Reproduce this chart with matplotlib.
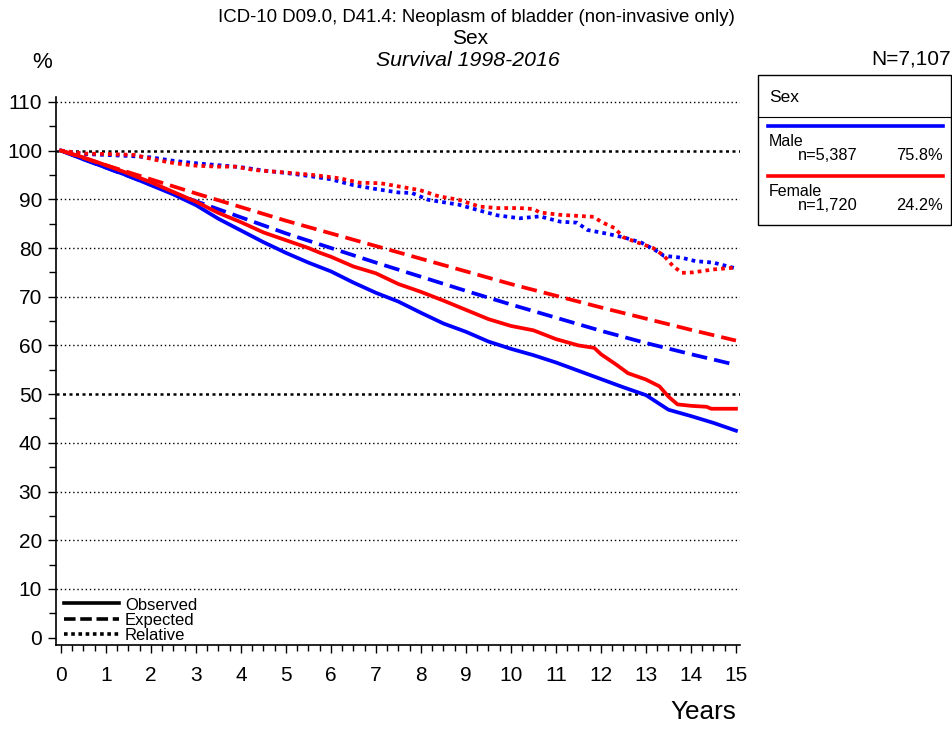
import matplotlib
matplotlib.use("Agg")
import matplotlib.pyplot as plt
from matplotlib.ticker import MultipleLocator
from matplotlib.lines import Line2D
from matplotlib.patches import Rectangle

plt.rcParams['font.family'] = ['Liberation Sans', 'DejaVu Sans']

# ---- data -------------------------------------------------------------
male_obs_t = [0, 0.5, 1.0, 1.5, 2.0, 2.5, 3.0, 3.5, 4.0, 4.5, 5.0, 5.5, 6.0, 6.5,
              7.0, 7.5, 8.0, 8.5, 9.0, 9.5, 10.0, 10.5, 11.0, 11.5, 12.0, 12.5,
              13.0, 13.5, 14.0, 14.5, 15.0]
male_obs_v = [100, 98.2, 96.5, 94.8, 92.9, 91.0, 88.8, 86.0, 83.6, 81.2, 79.0, 77.0,
              75.2, 72.9, 70.8, 69.0, 66.7, 64.5, 62.8, 60.8, 59.3, 58.0, 56.5, 54.8,
              53.1, 51.4, 49.8, 46.8, 45.5, 44.1, 42.5]

female_obs_t = [0, 0.5, 1.0, 1.5, 2.0, 2.5, 3.0, 3.5, 4.0, 4.5, 5.0, 5.5, 5.76, 6.0,
                6.5, 7.0, 7.5, 8.0, 8.5, 9.0, 9.5, 10.0, 10.5, 11.0, 11.5, 11.85,
                12.0, 12.35, 12.6, 13.0, 13.3, 13.5, 13.7, 14.0, 14.35, 14.45, 15.0]
female_obs_v = [100, 98.6, 97.0, 95.3, 93.5, 91.5, 89.5, 87.2, 85.3, 83.2, 81.6, 80.0,
                79.0, 78.2, 76.2, 74.8, 72.6, 71.0, 69.2, 67.3, 65.4, 64.0, 63.1, 61.3,
                60.0, 59.5, 58.2, 56.0, 54.3, 53.0, 51.6, 49.5, 47.9, 47.6, 47.4, 47.0,
                47.0]

exp_t = list(range(16))
male_exp_v = [100, 96.5, 93.0, 89.6, 86.3, 83.0, 80.0, 77.0, 74.1, 71.2, 68.4, 65.7,
              63.0, 60.5, 58.2, 56.0]
female_exp_v = [100, 97.0, 94.1, 91.2, 88.4, 85.6, 83.0, 80.4, 77.8, 75.2, 72.6, 70.2,
                67.8, 65.5, 63.2, 61.0]

male_rel_t = [0, 0.5, 1.0, 1.5, 2.0, 2.5, 3.0, 3.5, 4.0, 4.5, 5.0, 5.5, 6.0, 6.5, 7.0,
              7.5, 7.8, 8.16, 8.84, 9.3, 9.7, 10.2, 10.64, 11.1, 11.47, 11.7, 12.1,
              12.5, 12.9, 13.2, 13.4, 13.8, 14.1, 14.5, 15.0]
male_rel_v = [100, 99.3, 99.1, 98.9, 98.6, 97.9, 97.4, 97.0, 96.6, 95.9, 95.4, 94.8,
              94.1, 92.9, 92.1, 91.4, 91.3, 89.9, 88.9, 87.7, 86.7, 86.1, 86.5, 85.4,
              85.2, 83.7, 83.0, 82.2, 81.1, 79.6, 78.4, 78.0, 77.3, 77.0, 75.8]

female_rel_t = [0, 0.5, 1.0, 1.64, 2.1, 2.53, 3.0, 3.5, 3.87, 4.3, 5.0, 5.6, 6.2, 6.64,
                7.1, 7.53, 7.97, 8.4, 8.84, 9.3, 9.7, 10.2, 10.5, 10.64, 11.1, 11.47,
                11.84, 12.0, 12.3, 12.5, 12.7, 13.16, 13.4, 13.6, 13.8, 14.05, 14.5, 15.0]
female_rel_v = [100, 99.4, 99.3, 99.1, 98.1, 97.4, 96.9, 96.7, 96.7, 96.0, 95.5, 95.0,
                94.3, 93.4, 93.3, 92.6, 91.9, 90.6, 89.9, 88.5, 88.2, 88.2, 88.0, 87.3,
                86.8, 86.6, 86.4, 85.4, 84.1, 82.2, 81.5, 80.0, 78.4, 76.3, 74.9, 75.0,
                75.6, 76.0]

groups = ["Male", "Female"]
group_n = ["n=5,387", "n=1,720"]
group_pct = ["75.8%", "24.2%"]
group_colors = ["#0000ff", "#ff0000"]

# ---- figure -----------------------------------------------------------
W, H = 953, 729
fig = plt.figure(figsize=(W / 100, H / 100), dpi=100)

def fx(px):
    return px / W

def fy(py):
    return 1 - py / H

ax = fig.add_axes([fx(56), fy(645), fx(740) - fx(56), fy(97) - fy(645)])
ax.set_xlim(-0.11, 15.09)
ax.set_ylim(-1.5, 111.0)

for s in ("top", "right"):
    ax.spines[s].set_visible(False)
for s in ("left", "bottom"):
    ax.spines[s].set_linewidth(1.2)

# horizontal reference lines
for g in range(10, 111, 10):
    if g in (50, 100):
        ax.axhline(g, color="black", lw=1.8, ls=(0, (1.2, 1.4)), zorder=1)
    else:
        ax.axhline(g, color="black", lw=1.0, ls=(0, (1, 2)), zorder=1)

LW = 2.7
DASH = (0, (4.2, 1.9))
DOT = (0, (1, 1.1))
curves = [
    (male_obs_t, male_obs_v, female_obs_t, female_obs_v, "-"),
    (exp_t, male_exp_v, exp_t, female_exp_v, DASH),
    (male_rel_t, male_rel_v, female_rel_t, female_rel_v, DOT),
]
for mt, mv, ft, fv, ls in curves:
    ax.plot(mt, mv, color=group_colors[0], lw=LW, ls=ls, dash_capstyle="butt", zorder=3)
    ax.plot(ft, fv, color=group_colors[1], lw=LW, ls=ls, dash_capstyle="butt", zorder=4)

ax.xaxis.set_major_locator(MultipleLocator(1))
ax.xaxis.set_minor_locator(MultipleLocator(0.25))
ax.yaxis.set_major_locator(MultipleLocator(10))
ax.yaxis.set_minor_locator(MultipleLocator(5))
ax.tick_params(axis="both", which="major", length=6, width=1.0, labelsize=15,
               direction="out", pad=4)
ax.tick_params(axis="x", which="minor", length=4, width=1.0, direction="out")
ax.tick_params(axis="y", which="minor", length=5, width=1.0, direction="out")
ax.tick_params(axis="x", which="major", pad=9)

# line-style key
key = [("Observed", "-", 603), ("Expected", (0, (3.2, 1.3)), 619), ("Relative", (0, (1, 1)), 634)]
for label, ls, py in key:
    fig.add_artist(Line2D([fx(64), fx(119)], [fy(py), fy(py)], color="black", lw=2.6,
                          ls=ls, dash_capstyle="butt"))
    fig.text(fx(125), fy(py + 2), label, fontsize=12, va="center", ha="left")

# titles
fig.text(fx(476), fy(18), "ICD-10 D09.0, D41.4: Neoplasm of bladder (non-invasive only)",
         ha="center", va="center", fontsize=13.4)
fig.text(fx(470), fy(38), "Sex", ha="center", va="center", fontsize=15)
fig.text(fx(468), fy(60), "Survival 1998-2016", ha="center", va="center",
         fontsize=15.3, style="italic")
fig.text(fx(42), fy(62), "%", ha="center", va="center", fontsize=16)
fig.text(fx(951), fy(59), "N=7,107", ha="right", va="center", fontsize=15)
fig.text(fx(703), fy(712), "Years", ha="center", va="center", fontsize=18.8)

# group key box
fig.add_artist(Rectangle((fx(758), fy(225)), fx(951) - fx(758), fy(75) - fy(225),
                         fill=False, edgecolor="black", lw=1.0))
fig.add_artist(Line2D([fx(758), fx(951)], [fy(117), fy(117)], color="black", lw=0.8))
fig.text(fx(769), fy(97), "Sex", ha="left", va="center", fontsize=12.5)
for i, (name, n, pct, col) in enumerate(zip(groups, group_n, group_pct, group_colors)):
    y0 = 126 + i * 50
    fig.add_artist(Line2D([fx(768), fx(943)], [fy(y0), fy(y0)], color=col, lw=2.6))
    fig.text(fx(769), fy(y0 + 16), name, ha="left", va="center", fontsize=11.5)
    fig.text(fx(858), fy(y0 + 30), n, ha="right", va="center", fontsize=11.8)
    fig.text(fx(943), fy(y0 + 30), pct, ha="right", va="center", fontsize=11.8)

fig.savefig("out.png", dpi=100)
